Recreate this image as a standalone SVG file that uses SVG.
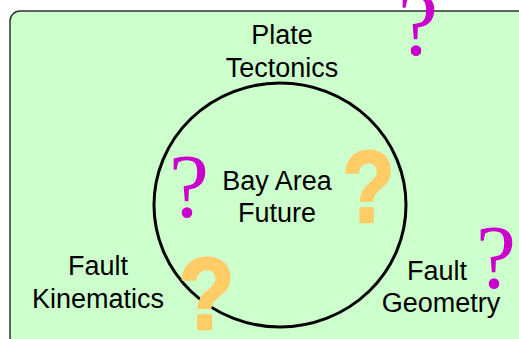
<svg xmlns="http://www.w3.org/2000/svg" width="519" height="339" viewBox="0 0 519 339">
<style>
.lbl{font-family:"Liberation Sans",Arial,sans-serif;font-size:27px;fill:#000;text-anchor:middle}
.qm{font-family:"Liberation Serif","Times New Roman",serif;font-size:90px;fill:#CC00CC;text-anchor:middle}
.qo{font-family:"Liberation Sans",Arial,sans-serif;font-weight:bold;font-size:102px;fill:#FFCC66;stroke:#FFCC66;stroke-width:2.5;stroke-linejoin:round;text-anchor:middle}
</style>
<rect x="0" y="0" width="519" height="339" fill="#fff"/>
<g id="background">
<rect x="10" y="11" width="520" height="336" rx="10" ry="10" fill="#CCFFCC" stroke="#333" stroke-width="1.5"/>
</g>
<g id="bay-area-future">
<ellipse cx="280" cy="205" rx="126" ry="122" fill="none" stroke="#000" stroke-width="3"/>
<text class="lbl" x="277" y="190">Bay Area</text>
<text class="lbl" x="277" y="222">Future</text>
</g>
<g id="plate-tectonics">
<text class="lbl" x="282" y="44">Plate</text>
<text class="lbl" x="282" y="77">Tectonics</text>
</g>
<g id="fault-kinematics">
<text class="lbl" x="98" y="275">Fault</text>
<text class="lbl" x="98" y="308">Kinematics</text>
</g>
<g id="fault-geometry">
<text class="lbl" x="437" y="280">Fault</text>
<text class="lbl" x="441" y="312">Geometry</text>
</g>
<g id="question-marks">
<text class="qm" x="418" y="55">?</text>
<text class="qm" x="189" y="217">?</text>
<text class="qm" x="496" y="288">?</text>
<text class="qo" transform="translate(368.5,222) scale(0.84,1)" x="0" y="0">?</text>
<text class="qo" transform="translate(206.5,329) scale(0.9,1)" x="0" y="0">?</text>
</g>
<g id="connectors"></g>
</svg>
